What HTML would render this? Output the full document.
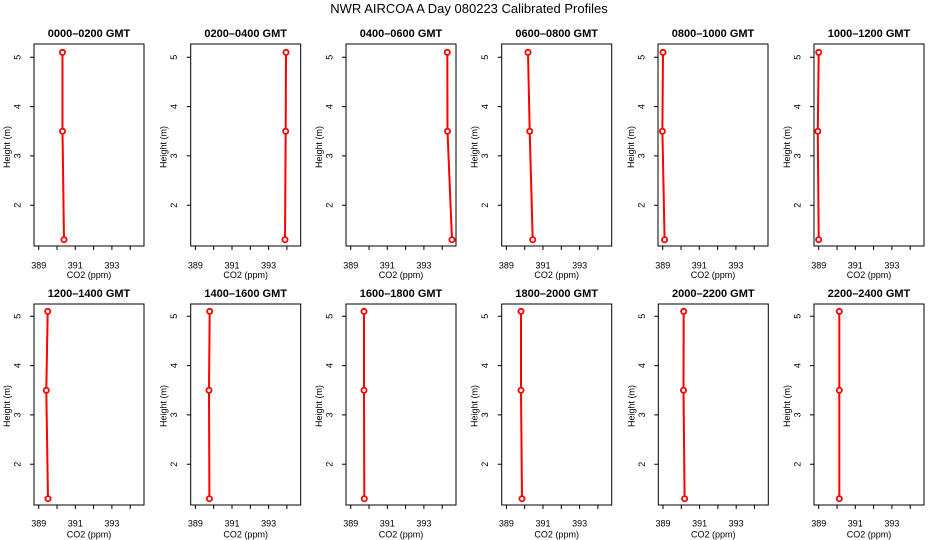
<!DOCTYPE html>
<html><head><meta charset="utf-8"><style>
html,body{margin:0;padding:0;background:#fff}
svg{display:block;font-family:"Liberation Sans",sans-serif}
.t{font-size:9px;fill:#000}
.ti{font-size:11px;font-weight:bold;fill:#000}
.ln{fill:none;stroke:#f00;stroke-width:2}
.mk{fill:#fff;stroke:#f00;stroke-width:1.8}
</style></head><body>
<svg width="936" height="540" viewBox="0 0 936 540" xmlns="http://www.w3.org/2000/svg">
<rect width="936" height="540" fill="#fff"/>
<text x="469" y="13" text-anchor="middle" style="font-size:13px">NWR AIRCOA A  Day 080223  Calibrated Profiles</text>

<g transform="translate(34,44)">
<rect x="0" y="0" width="110" height="202" fill="none" stroke="#000"/>
<path d="M4.7 202v4M23 202v4M41.3 202v4M59.6 202v4M77.9 202v4M96.2 202v4M0 13.3h-4M0 62.6h-4M0 111.9h-4M0 161.2h-4" stroke="#000"/>
<text class="t" x="4.7" y="224.5" text-anchor="middle">389</text><text class="t" x="41.3" y="224.5" text-anchor="middle">391</text><text class="t" x="77.9" y="224.5" text-anchor="middle">393</text>
<text class="t" x="55" y="234" text-anchor="middle">CO2 (ppm)</text>
<text class="t" transform="translate(-13.5,13.3) rotate(-90)" text-anchor="middle">5</text><text class="t" transform="translate(-13.5,62.6) rotate(-90)" text-anchor="middle">4</text><text class="t" transform="translate(-13.5,111.9) rotate(-90)" text-anchor="middle">3</text><text class="t" transform="translate(-13.5,161.2) rotate(-90)" text-anchor="middle">2</text>
<text class="t" transform="translate(-24,103) rotate(-90)" text-anchor="middle">Height (m)</text>
<text class="ti" x="55" y="-7" text-anchor="middle">0000–0200 GMT</text>
<polyline class="ln" points="28.5,8.4 28.5,87.3 30,195.7"/>
<circle class="mk" cx="28.5" cy="8.4" r="2.6"/><circle class="mk" cx="28.5" cy="87.3" r="2.6"/><circle class="mk" cx="30" cy="195.7" r="2.6"/>
</g>

<g transform="translate(190.7,44)">
<rect x="0" y="0" width="110" height="202" fill="none" stroke="#000"/>
<path d="M4.7 202v4M23 202v4M41.3 202v4M59.6 202v4M77.9 202v4M96.2 202v4M0 13.3h-4M0 62.6h-4M0 111.9h-4M0 161.2h-4" stroke="#000"/>
<text class="t" x="4.7" y="224.5" text-anchor="middle">389</text><text class="t" x="41.3" y="224.5" text-anchor="middle">391</text><text class="t" x="77.9" y="224.5" text-anchor="middle">393</text>
<text class="t" x="55" y="234" text-anchor="middle">CO2 (ppm)</text>
<text class="t" transform="translate(-13.5,13.3) rotate(-90)" text-anchor="middle">5</text><text class="t" transform="translate(-13.5,62.6) rotate(-90)" text-anchor="middle">4</text><text class="t" transform="translate(-13.5,111.9) rotate(-90)" text-anchor="middle">3</text><text class="t" transform="translate(-13.5,161.2) rotate(-90)" text-anchor="middle">2</text>
<text class="t" transform="translate(-24,103) rotate(-90)" text-anchor="middle">Height (m)</text>
<text class="ti" x="55" y="-7" text-anchor="middle">0200–0400 GMT</text>
<polyline class="ln" points="95.3,8.4 95,87.3 94.3,195.7"/>
<circle class="mk" cx="95.3" cy="8.4" r="2.6"/><circle class="mk" cx="95" cy="87.3" r="2.6"/><circle class="mk" cx="94.3" cy="195.7" r="2.6"/>
</g>

<g transform="translate(346,44)">
<rect x="0" y="0" width="110" height="202" fill="none" stroke="#000"/>
<path d="M4.7 202v4M23 202v4M41.3 202v4M59.6 202v4M77.9 202v4M96.2 202v4M0 13.3h-4M0 62.6h-4M0 111.9h-4M0 161.2h-4" stroke="#000"/>
<text class="t" x="4.7" y="224.5" text-anchor="middle">389</text><text class="t" x="41.3" y="224.5" text-anchor="middle">391</text><text class="t" x="77.9" y="224.5" text-anchor="middle">393</text>
<text class="t" x="55" y="234" text-anchor="middle">CO2 (ppm)</text>
<text class="t" transform="translate(-13.5,13.3) rotate(-90)" text-anchor="middle">5</text><text class="t" transform="translate(-13.5,62.6) rotate(-90)" text-anchor="middle">4</text><text class="t" transform="translate(-13.5,111.9) rotate(-90)" text-anchor="middle">3</text><text class="t" transform="translate(-13.5,161.2) rotate(-90)" text-anchor="middle">2</text>
<text class="t" transform="translate(-24,103) rotate(-90)" text-anchor="middle">Height (m)</text>
<text class="ti" x="55" y="-7" text-anchor="middle">0400–0600 GMT</text>
<polyline class="ln" points="101.3,8.4 101.5,87.3 106,195.7"/>
<circle class="mk" cx="101.3" cy="8.4" r="2.6"/><circle class="mk" cx="101.5" cy="87.3" r="2.6"/><circle class="mk" cx="106" cy="195.7" r="2.6"/>
</g>

<g transform="translate(501.7,44)">
<rect x="0" y="0" width="110" height="202" fill="none" stroke="#000"/>
<path d="M4.7 202v4M23 202v4M41.3 202v4M59.6 202v4M77.9 202v4M96.2 202v4M0 13.3h-4M0 62.6h-4M0 111.9h-4M0 161.2h-4" stroke="#000"/>
<text class="t" x="4.7" y="224.5" text-anchor="middle">389</text><text class="t" x="41.3" y="224.5" text-anchor="middle">391</text><text class="t" x="77.9" y="224.5" text-anchor="middle">393</text>
<text class="t" x="55" y="234" text-anchor="middle">CO2 (ppm)</text>
<text class="t" transform="translate(-13.5,13.3) rotate(-90)" text-anchor="middle">5</text><text class="t" transform="translate(-13.5,62.6) rotate(-90)" text-anchor="middle">4</text><text class="t" transform="translate(-13.5,111.9) rotate(-90)" text-anchor="middle">3</text><text class="t" transform="translate(-13.5,161.2) rotate(-90)" text-anchor="middle">2</text>
<text class="t" transform="translate(-24,103) rotate(-90)" text-anchor="middle">Height (m)</text>
<text class="ti" x="55" y="-7" text-anchor="middle">0600–0800 GMT</text>
<polyline class="ln" points="26.3,8.4 28,87.3 31,195.7"/>
<circle class="mk" cx="26.3" cy="8.4" r="2.6"/><circle class="mk" cx="28" cy="87.3" r="2.6"/><circle class="mk" cx="31" cy="195.7" r="2.6"/>
</g>

<g transform="translate(658,44)">
<rect x="0" y="0" width="110" height="202" fill="none" stroke="#000"/>
<path d="M4.7 202v4M23 202v4M41.3 202v4M59.6 202v4M77.9 202v4M96.2 202v4M0 13.3h-4M0 62.6h-4M0 111.9h-4M0 161.2h-4" stroke="#000"/>
<text class="t" x="4.7" y="224.5" text-anchor="middle">389</text><text class="t" x="41.3" y="224.5" text-anchor="middle">391</text><text class="t" x="77.9" y="224.5" text-anchor="middle">393</text>
<text class="t" x="55" y="234" text-anchor="middle">CO2 (ppm)</text>
<text class="t" transform="translate(-13.5,13.3) rotate(-90)" text-anchor="middle">5</text><text class="t" transform="translate(-13.5,62.6) rotate(-90)" text-anchor="middle">4</text><text class="t" transform="translate(-13.5,111.9) rotate(-90)" text-anchor="middle">3</text><text class="t" transform="translate(-13.5,161.2) rotate(-90)" text-anchor="middle">2</text>
<text class="t" transform="translate(-24,103) rotate(-90)" text-anchor="middle">Height (m)</text>
<text class="ti" x="55" y="-7" text-anchor="middle">0800–1000 GMT</text>
<polyline class="ln" points="5,8.4 4.4,87.3 6.6,195.7"/>
<circle class="mk" cx="5" cy="8.4" r="2.6"/><circle class="mk" cx="4.4" cy="87.3" r="2.6"/><circle class="mk" cx="6.6" cy="195.7" r="2.6"/>
</g>

<g transform="translate(814,44)">
<rect x="0" y="0" width="110" height="202" fill="none" stroke="#000"/>
<path d="M4.7 202v4M23 202v4M41.3 202v4M59.6 202v4M77.9 202v4M96.2 202v4M0 13.3h-4M0 62.6h-4M0 111.9h-4M0 161.2h-4" stroke="#000"/>
<text class="t" x="4.7" y="224.5" text-anchor="middle">389</text><text class="t" x="41.3" y="224.5" text-anchor="middle">391</text><text class="t" x="77.9" y="224.5" text-anchor="middle">393</text>
<text class="t" x="55" y="234" text-anchor="middle">CO2 (ppm)</text>
<text class="t" transform="translate(-13.5,13.3) rotate(-90)" text-anchor="middle">5</text><text class="t" transform="translate(-13.5,62.6) rotate(-90)" text-anchor="middle">4</text><text class="t" transform="translate(-13.5,111.9) rotate(-90)" text-anchor="middle">3</text><text class="t" transform="translate(-13.5,161.2) rotate(-90)" text-anchor="middle">2</text>
<text class="t" transform="translate(-24,103) rotate(-90)" text-anchor="middle">Height (m)</text>
<text class="ti" x="55" y="-7" text-anchor="middle">1000–1200 GMT</text>
<polyline class="ln" points="4.7,8.4 3.8,87.3 4.7,195.7"/>
<circle class="mk" cx="4.7" cy="8.4" r="2.6"/><circle class="mk" cx="3.8" cy="87.3" r="2.6"/><circle class="mk" cx="4.7" cy="195.7" r="2.6"/>
</g>

<g transform="translate(34,304)">
<rect x="0" y="0" width="110" height="201" fill="none" stroke="#000"/>
<path d="M4.7 201v4M23 201v4M41.3 201v4M59.6 201v4M77.9 201v4M96.2 201v4M0 12.3h-4M0 61.6h-4M0 110.9h-4M0 160.2h-4" stroke="#000"/>
<text class="t" x="4.7" y="222.5" text-anchor="middle">389</text><text class="t" x="41.3" y="222.5" text-anchor="middle">391</text><text class="t" x="77.9" y="222.5" text-anchor="middle">393</text>
<text class="t" x="55" y="233.5" text-anchor="middle">CO2 (ppm)</text>
<text class="t" transform="translate(-13.5,12.3) rotate(-90)" text-anchor="middle">5</text><text class="t" transform="translate(-13.5,61.6) rotate(-90)" text-anchor="middle">4</text><text class="t" transform="translate(-13.5,110.9) rotate(-90)" text-anchor="middle">3</text><text class="t" transform="translate(-13.5,160.2) rotate(-90)" text-anchor="middle">2</text>
<text class="t" transform="translate(-24,102) rotate(-90)" text-anchor="middle">Height (m)</text>
<text class="ti" x="55" y="-7" text-anchor="middle">1200–1400 GMT</text>
<polyline class="ln" points="13.7,7.4 12.3,86.3 14,194.7"/>
<circle class="mk" cx="13.7" cy="7.4" r="2.6"/><circle class="mk" cx="12.3" cy="86.3" r="2.6"/><circle class="mk" cx="14" cy="194.7" r="2.6"/>
</g>

<g transform="translate(190.7,304)">
<rect x="0" y="0" width="110" height="201" fill="none" stroke="#000"/>
<path d="M4.7 201v4M23 201v4M41.3 201v4M59.6 201v4M77.9 201v4M96.2 201v4M0 12.3h-4M0 61.6h-4M0 110.9h-4M0 160.2h-4" stroke="#000"/>
<text class="t" x="4.7" y="222.5" text-anchor="middle">389</text><text class="t" x="41.3" y="222.5" text-anchor="middle">391</text><text class="t" x="77.9" y="222.5" text-anchor="middle">393</text>
<text class="t" x="55" y="233.5" text-anchor="middle">CO2 (ppm)</text>
<text class="t" transform="translate(-13.5,12.3) rotate(-90)" text-anchor="middle">5</text><text class="t" transform="translate(-13.5,61.6) rotate(-90)" text-anchor="middle">4</text><text class="t" transform="translate(-13.5,110.9) rotate(-90)" text-anchor="middle">3</text><text class="t" transform="translate(-13.5,160.2) rotate(-90)" text-anchor="middle">2</text>
<text class="t" transform="translate(-24,102) rotate(-90)" text-anchor="middle">Height (m)</text>
<text class="ti" x="55" y="-7" text-anchor="middle">1400–1600 GMT</text>
<polyline class="ln" points="19,7.4 18.3,86.3 18.7,194.7"/>
<circle class="mk" cx="19" cy="7.4" r="2.6"/><circle class="mk" cx="18.3" cy="86.3" r="2.6"/><circle class="mk" cx="18.7" cy="194.7" r="2.6"/>
</g>

<g transform="translate(346,304)">
<rect x="0" y="0" width="110" height="201" fill="none" stroke="#000"/>
<path d="M4.7 201v4M23 201v4M41.3 201v4M59.6 201v4M77.9 201v4M96.2 201v4M0 12.3h-4M0 61.6h-4M0 110.9h-4M0 160.2h-4" stroke="#000"/>
<text class="t" x="4.7" y="222.5" text-anchor="middle">389</text><text class="t" x="41.3" y="222.5" text-anchor="middle">391</text><text class="t" x="77.9" y="222.5" text-anchor="middle">393</text>
<text class="t" x="55" y="233.5" text-anchor="middle">CO2 (ppm)</text>
<text class="t" transform="translate(-13.5,12.3) rotate(-90)" text-anchor="middle">5</text><text class="t" transform="translate(-13.5,61.6) rotate(-90)" text-anchor="middle">4</text><text class="t" transform="translate(-13.5,110.9) rotate(-90)" text-anchor="middle">3</text><text class="t" transform="translate(-13.5,160.2) rotate(-90)" text-anchor="middle">2</text>
<text class="t" transform="translate(-24,102) rotate(-90)" text-anchor="middle">Height (m)</text>
<text class="ti" x="55" y="-7" text-anchor="middle">1600–1800 GMT</text>
<polyline class="ln" points="18,7.4 18,86.3 18.3,194.7"/>
<circle class="mk" cx="18" cy="7.4" r="2.6"/><circle class="mk" cx="18" cy="86.3" r="2.6"/><circle class="mk" cx="18.3" cy="194.7" r="2.6"/>
</g>

<g transform="translate(501.7,304)">
<rect x="0" y="0" width="110" height="201" fill="none" stroke="#000"/>
<path d="M4.7 201v4M23 201v4M41.3 201v4M59.6 201v4M77.9 201v4M96.2 201v4M0 12.3h-4M0 61.6h-4M0 110.9h-4M0 160.2h-4" stroke="#000"/>
<text class="t" x="4.7" y="222.5" text-anchor="middle">389</text><text class="t" x="41.3" y="222.5" text-anchor="middle">391</text><text class="t" x="77.9" y="222.5" text-anchor="middle">393</text>
<text class="t" x="55" y="233.5" text-anchor="middle">CO2 (ppm)</text>
<text class="t" transform="translate(-13.5,12.3) rotate(-90)" text-anchor="middle">5</text><text class="t" transform="translate(-13.5,61.6) rotate(-90)" text-anchor="middle">4</text><text class="t" transform="translate(-13.5,110.9) rotate(-90)" text-anchor="middle">3</text><text class="t" transform="translate(-13.5,160.2) rotate(-90)" text-anchor="middle">2</text>
<text class="t" transform="translate(-24,102) rotate(-90)" text-anchor="middle">Height (m)</text>
<text class="ti" x="55" y="-7" text-anchor="middle">1800–2000 GMT</text>
<polyline class="ln" points="19.3,7.4 19.3,86.3 20.3,194.7"/>
<circle class="mk" cx="19.3" cy="7.4" r="2.6"/><circle class="mk" cx="19.3" cy="86.3" r="2.6"/><circle class="mk" cx="20.3" cy="194.7" r="2.6"/>
</g>

<g transform="translate(658.3,304)">
<rect x="0" y="0" width="110" height="201" fill="none" stroke="#000"/>
<path d="M4.7 201v4M23 201v4M41.3 201v4M59.6 201v4M77.9 201v4M96.2 201v4M0 12.3h-4M0 61.6h-4M0 110.9h-4M0 160.2h-4" stroke="#000"/>
<text class="t" x="4.7" y="222.5" text-anchor="middle">389</text><text class="t" x="41.3" y="222.5" text-anchor="middle">391</text><text class="t" x="77.9" y="222.5" text-anchor="middle">393</text>
<text class="t" x="55" y="233.5" text-anchor="middle">CO2 (ppm)</text>
<text class="t" transform="translate(-13.5,12.3) rotate(-90)" text-anchor="middle">5</text><text class="t" transform="translate(-13.5,61.6) rotate(-90)" text-anchor="middle">4</text><text class="t" transform="translate(-13.5,110.9) rotate(-90)" text-anchor="middle">3</text><text class="t" transform="translate(-13.5,160.2) rotate(-90)" text-anchor="middle">2</text>
<text class="t" transform="translate(-24,102) rotate(-90)" text-anchor="middle">Height (m)</text>
<text class="ti" x="55" y="-7" text-anchor="middle">2000–2200 GMT</text>
<polyline class="ln" points="25.4,7.4 25.2,86.3 26.3,194.7"/>
<circle class="mk" cx="25.4" cy="7.4" r="2.6"/><circle class="mk" cx="25.2" cy="86.3" r="2.6"/><circle class="mk" cx="26.3" cy="194.7" r="2.6"/>
</g>

<g transform="translate(814,304)">
<rect x="0" y="0" width="110" height="201" fill="none" stroke="#000"/>
<path d="M4.7 201v4M23 201v4M41.3 201v4M59.6 201v4M77.9 201v4M96.2 201v4M0 12.3h-4M0 61.6h-4M0 110.9h-4M0 160.2h-4" stroke="#000"/>
<text class="t" x="4.7" y="222.5" text-anchor="middle">389</text><text class="t" x="41.3" y="222.5" text-anchor="middle">391</text><text class="t" x="77.9" y="222.5" text-anchor="middle">393</text>
<text class="t" x="55" y="233.5" text-anchor="middle">CO2 (ppm)</text>
<text class="t" transform="translate(-13.5,12.3) rotate(-90)" text-anchor="middle">5</text><text class="t" transform="translate(-13.5,61.6) rotate(-90)" text-anchor="middle">4</text><text class="t" transform="translate(-13.5,110.9) rotate(-90)" text-anchor="middle">3</text><text class="t" transform="translate(-13.5,160.2) rotate(-90)" text-anchor="middle">2</text>
<text class="t" transform="translate(-24,102) rotate(-90)" text-anchor="middle">Height (m)</text>
<text class="ti" x="55" y="-7" text-anchor="middle">2200–2400 GMT</text>
<polyline class="ln" points="25.3,7.4 25.3,86.3 25.3,194.7"/>
<circle class="mk" cx="25.3" cy="7.4" r="2.6"/><circle class="mk" cx="25.3" cy="86.3" r="2.6"/><circle class="mk" cx="25.3" cy="194.7" r="2.6"/>
</g>
</svg>
</body></html>
